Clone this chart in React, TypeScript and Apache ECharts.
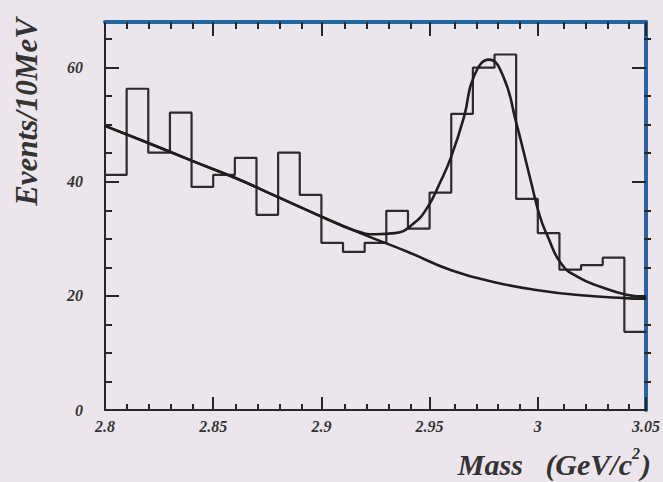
import React, { useEffect, useRef } from "react";
import * as echarts from "echarts";

// Histogram: left bin edges (10 MeV bins) and event counts
const binEdges = [2.8, 2.81, 2.82, 2.83, 2.84, 2.85, 2.86, 2.87, 2.88, 2.89, 2.9, 2.91, 2.92, 2.93, 2.94, 2.95, 2.96, 2.97, 2.98, 2.99, 3.0, 3.01, 3.02, 3.03, 3.04];
const binEnd = 3.05;
const counts = [41.2, 56.3, 45.1, 52.1, 39.1, 41.2, 44.2, 34.2, 45.1, 37.7, 29.3, 27.7, 29.3, 34.9, 31.8, 38.1, 51.9, 60, 62.3, 37, 31, 24.6, 25.4, 26.7, 13.7];

// Background fit curve
const bgX = [2.8, 2.82, 2.84, 2.86, 2.88, 2.9, 2.92, 2.94, 2.96, 2.98, 3.0, 3.02, 3.04, 3.05];
const bgY = [49.8, 46.8, 43.7, 40.7, 37.3, 33.9, 30.7, 27.7, 24.5, 22.4, 21.0, 20.1, 19.6, 19.5];

// Total fit curve (signal + background)
const fitX = [2.8, 2.82, 2.84, 2.86, 2.88, 2.9, 2.915, 2.925, 2.934, 2.942, 2.949, 2.955, 2.96, 2.966, 2.9705, 2.9775, 2.984, 2.99, 2.9966, 3.001, 3.0046, 3.0107, 3.018, 3.029, 3.041, 3.05];
const fitY = [49.8, 46.8, 43.7, 40.7, 37.3, 33.9, 31.5, 30.8, 31.0, 32.5, 35.5, 40.0, 44.4, 51.5, 58.5, 61.4, 58.5, 50.4, 40.4, 33.9, 30.4, 25.7, 23.4, 21.6, 20.2, 19.8];

// Axis ticks
const xMajor = [2.8, 2.85, 2.9, 2.95, 3.0, 3.05];
const xTickLabels = ["2.8", "2.85", "2.9", "2.95", "3", "3.05"];
const xMinor = [2.81, 2.82, 2.83, 2.84, 2.86, 2.87, 2.88, 2.89, 2.91, 2.92, 2.93, 2.94, 2.96, 2.97, 2.98, 2.99, 3.01, 3.02, 3.03, 3.04];
const yMajor = [0, 20, 40, 60];
const yTickLabels = ["0", "20", "40", "60"];
const yMinor = [5, 10, 15, 25, 30, 35, 45, 50, 55, 65];
const yMax = 68;

const FONT = "'Liberation Serif', 'Times New Roman', serif";
const BLUE = "#2465a3";
const INK = "#262626";

export default function App() {
  const ref = useRef<HTMLDivElement>(null);

  useEffect(() => {
    if (!ref.current) return;
    const chart = echarts.init(ref.current, undefined, { renderer: "svg" });

    const histData: [number, number][] = binEdges.map((e, i) => [e, counts[i]]);
    histData.push([binEnd, counts[counts.length - 1]]);

    const labelStyle = {
      fontFamily: FONT,
      fontStyle: "italic" as const,
      fontWeight: "bold" as const,
      fontSize: 16,
      color: "#333",
    };

    const rect = { left: 105, right: 12, top: 22, bottom: 72 };
    const baseX = { type: "value" as const, min: 2.8, max: 3.05, splitLine: { show: false } };
    const baseY = { type: "value" as const, min: 0, max: yMax, splitLine: { show: false } };
    const tickStyle = { color: INK, width: 2 };
    const noLine = { show: false, onZero: false };

    chart.setOption({
      animation: false,
      backgroundColor: "transparent",
      grid: [rect, rect],
      xAxis: [
        {
          ...baseX,
          gridIndex: 0,
          position: "bottom",
          axisLine: { show: true, onZero: false, lineStyle: { color: INK, width: 2 } },
          axisTick: { show: true, inside: true, length: 13, lineStyle: tickStyle, customValues: xMajor },
          axisLabel: {
            ...labelStyle,
            margin: 8,
            customValues: xMajor,
            formatter: (v: number) => {
              const i = xMajor.findIndex((m) => Math.abs(m - v) < 1e-6);
              return i >= 0 ? xTickLabels[i] : "";
            },
          },
        },
        {
          ...baseX,
          gridIndex: 0,
          position: "top",
          axisLine: { show: true, onZero: false, lineStyle: { color: BLUE, width: 4 } },
          axisTick: { show: true, inside: true, length: 14, lineStyle: tickStyle, customValues: xMajor },
          axisLabel: { show: false },
        },
        {
          ...baseX,
          gridIndex: 1,
          position: "bottom",
          axisLine: noLine,
          axisTick: { show: true, inside: true, length: 6, lineStyle: tickStyle, customValues: xMinor },
          axisLabel: { show: false },
        },
        {
          ...baseX,
          gridIndex: 1,
          position: "top",
          axisLine: noLine,
          axisTick: { show: true, inside: true, length: 7, lineStyle: tickStyle, customValues: xMinor },
          axisLabel: { show: false },
        },
      ],
      yAxis: [
        {
          ...baseY,
          gridIndex: 0,
          position: "left",
          axisLine: { show: true, onZero: false, lineStyle: { color: INK, width: 2 } },
          axisTick: { show: true, inside: true, length: 14, lineStyle: tickStyle, customValues: yMajor },
          axisLabel: {
            ...labelStyle,
            margin: 22,
            customValues: yMajor,
            formatter: (v: number) => {
              const i = yMajor.indexOf(Math.round(v));
              return i >= 0 ? yTickLabels[i] : "";
            },
          },
        },
        {
          ...baseY,
          gridIndex: 0,
          position: "right",
          axisLine: { show: true, onZero: false, lineStyle: { color: BLUE, width: 4 } },
          axisTick: { show: true, inside: true, length: 14, lineStyle: tickStyle, customValues: yMajor },
          axisLabel: { show: false },
        },
        {
          ...baseY,
          gridIndex: 1,
          position: "left",
          axisLine: noLine,
          axisTick: { show: true, inside: true, length: 7, lineStyle: tickStyle, customValues: yMinor },
          axisLabel: { show: false },
        },
        {
          ...baseY,
          gridIndex: 1,
          position: "right",
          axisLine: noLine,
          axisTick: { show: true, inside: true, length: 7, lineStyle: tickStyle, customValues: yMinor },
          axisLabel: { show: false },
        },
      ],
      series: [
        {
          type: "line",
          name: "data",
          xAxisIndex: 0,
          yAxisIndex: 0,
          step: "end",
          data: histData,
          symbol: "none",
          lineStyle: { color: "#2b2b2b", width: 2.2 },
          z: 3,
        },
        {
          type: "line",
          name: "background",
          xAxisIndex: 0,
          yAxisIndex: 0,
          data: bgX.map((x, i) => [x, bgY[i]]),
          smooth: true,
          symbol: "none",
          lineStyle: { color: "#1e1e1e", width: 2.6 },
          z: 4,
        },
        {
          type: "line",
          name: "fit",
          xAxisIndex: 0,
          yAxisIndex: 0,
          data: fitX.map((x, i) => [x, fitY[i]]),
          smooth: true,
          symbol: "none",
          lineStyle: { color: "#1e1e1e", width: 2.6 },
          z: 4,
        },
      ],
      graphic: [
        {
          type: "text",
          x: 26,
          y: 112,
          rotation: Math.PI / 2,
          style: {
            text: "Events/10MeV",
            font: `italic bold 31px ${FONT}`,
            fill: "#333",
            align: "center",
            verticalAlign: "middle",
          },
        },
        {
          type: "text",
          right: 12,
          top: 445,
          style: {
            text: "{m|Mass   (GeV/c}{s|2}{m|)}",
            fill: "#333",
            align: "right",
            rich: {
              m: { fontFamily: FONT, fontStyle: "italic", fontWeight: "bold", fontSize: 30, fill: "#333", lineHeight: 34, verticalAlign: "bottom" },
              s: { fontFamily: FONT, fontStyle: "italic", fontWeight: "bold", fontSize: 16, fill: "#333", lineHeight: 34, verticalAlign: "top", padding: [0, 1, 14, 0] },
            },
          },
        },
      ],
    });

    return () => chart.dispose();
  }, []);

  return (
    <div
      ref={ref}
      style={{ position: "absolute", left: 0, top: 0, width: 663, height: 482, background: "#ece6ec" }}
    />
  );
}
